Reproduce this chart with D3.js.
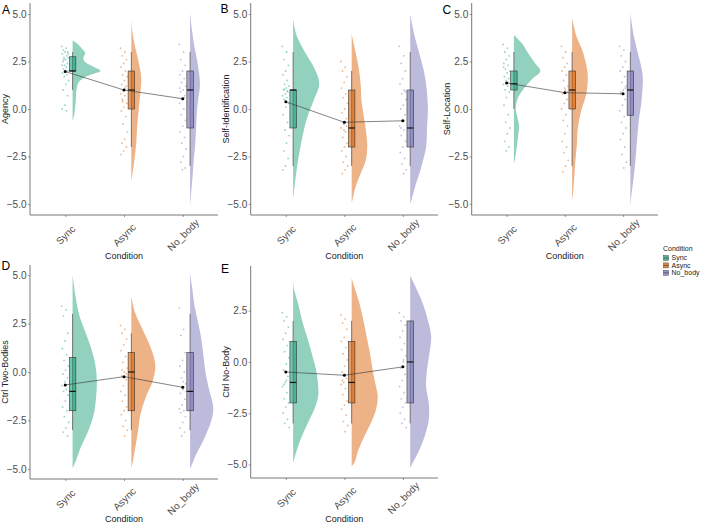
<!DOCTYPE html>
<html><head><meta charset="utf-8">
<script src="https://cdn.jsdelivr.net/npm/d3@7"></script>
<style>body{margin:0;background:#fff}svg{display:block;font-family:"Liberation Sans",Arial,Helvetica,sans-serif}</style>
</head><body><svg id="chart" width="708" height="524"></svg>
<script>
// ---------------- data ----------------
const conditions = ["Sync", "Async", "No_body"];
const colors = ["#1B9E77", "#D95F02", "#7570B3"];
const panelTags = ["A", "B", "C", "D", "E"];
const panelTitles = ["Agency", "Self-Identification", "Self-Location", "Ctrl Two-Bodies", "Ctrl No-Body"];
const xTitle = "Condition";
const yTicksMain = [-5, -2.5, 0, 2.5, 5];
const yTicksE = [-5, -2.5, 0, 2.5];

// box stats per condition: [min, q1, median, q3, max]
const boxA = [[1, 2, 2, 2.75, 3], [-2, 0, 1, 2, 3], [-3, -1, 1, 2, 3]];
const boxB = [[-3, -1, 1, 1, 3], [-3, -2, -1, 1, 2], [-3, -2, -1, 1, 3]];
const boxC = [[0, 1, 1.33, 2, 3], [-3, 0, 1, 2, 3], [-3, -0.33, 1, 2, 3]];
const boxD = [[-3, -2, -1, 0.75, 3], [-3, -2, 0, 1, 2], [-3, -2, -1, 1, 3]];
const boxE = [[-3, -2, -1, 1, 2], [-3, -2, -1, 1, 2], [-3, -2, 0, 2, 2]];

// condition means
const meanA = [1.97, 1.0, 0.54];
const meanB = [0.38, -0.7, -0.62];
const meanC = [1.37, 0.86, 0.8];
const meanD = [-0.67, -0.24, -0.79];
const meanE = [-0.49, -0.65, -0.24];

// half-violin density profiles: [value, density]
const violinA = [
  [[3.6,0],[3.45,0.15],[3.2,0.3],[2.95,0.42],[2.7,0.36],[2.5,0.4],[2.3,0.6],[2.1,0.85],[2.0,0.93],[1.85,0.7],[1.65,0.38],[1.4,0.2],[1.0,0.13],[0.5,0.11],[0,0.08],[-0.4,0.04],[-0.65,0]],
  [[4.75,0],[4.1,0.03],[3.4,0.11],[2.5,0.24],[1.6,0.33],[0.8,0.3],[-0.1,0.24],[-1.0,0.19],[-1.85,0.16],[-2.7,0.1],[-3.5,0.03],[-3.8,0]],
  [[5.05,0],[4.3,0.05],[3.4,0.13],[2.5,0.24],[1.3,0.33],[0.5,0.27],[-0.1,0.23],[-1.0,0.2],[-1.85,0.17],[-2.7,0.12],[-3.6,0.08],[-4.5,0.03],[-5.1,0]]
];
const violinB = [
  [[4.75,0],[3.9,0.11],[3.0,0.39],[2.1,0.72],[1.3,0.87],[0.4,0.67],[-0.45,0.47],[-1.3,0.33],[-2.2,0.22],[-3.05,0.13],[-3.9,0.06],[-4.75,0]],
  [[3.95,0],[3.0,0.13],[2.1,0.24],[1.3,0.3],[0.4,0.33],[-0.45,0.41],[-1.3,0.49],[-2.0,0.52],[-2.7,0.47],[-3.4,0.3],[-4.1,0.13],[-4.75,0.03],[-4.97,0]],
  [[5.0,0],[3.9,0.14],[3.0,0.29],[2.1,0.44],[1.3,0.53],[0.05,0.59],[-1.0,0.56],[-2.0,0.53],[-3.05,0.37],[-3.9,0.2],[-4.75,0.05],[-5.0,0]]
];
const violinC = [
  [[3.9,0],[3.47,0.26],[2.95,0.47],[2.42,0.7],[2.0,0.88],[1.55,0.59],[1.03,0.31],[0.6,0.14],[0.07,0.06],[-0.45,0.12],[-0.9,0.17],[-1.4,0.14],[-1.95,0.1],[-2.5,0.05],[-2.9,0]],
  [[4.8,0],[3.9,0.13],[3.0,0.36],[1.8,0.52],[0.77,0.47],[-0.1,0.3],[-1.0,0.19],[-1.85,0.16],[-2.7,0.11],[-3.6,0.07],[-4.45,0.03],[-4.8,0]],
  [[5.05,0],[3.9,0.11],[3.0,0.24],[1.8,0.41],[0.4,0.37],[-0.63,0.28],[-1.68,0.22],[-2.7,0.17],[-3.75,0.1],[-4.6,0.03],[-5.1,0]]
];
const violinD = [
  [[5.0,0],[3.8,0.11],[2.94,0.22],[2.08,0.42],[1.22,0.62],[0.36,0.76],[-0.5,0.81],[-1.36,0.78],[-2.22,0.7],[-3.08,0.51],[-3.93,0.26],[-4.62,0.1],[-4.95,0]],
  [[3.9,0],[3.04,0.13],[2.18,0.38],[1.32,0.63],[0.38,0.8],[-0.48,0.71],[-1.34,0.47],[-2.2,0.3],[-3.06,0.22],[-3.92,0.13],[-4.6,0.05],[-4.95,0]],
  [[5.1,0],[4.33,0.07],[3.47,0.14],[2.6,0.26],[1.75,0.37],[0.89,0.44],[0.03,0.51],[-0.82,0.62],[-1.68,0.76],[-2.03,0.77],[-2.54,0.7],[-3.4,0.48],[-4.26,0.2],[-5.03,0]]
];
const violinE = [
  [[3.98,0],[3.57,0.03],[2.76,0.18],[1.95,0.31],[1.14,0.48],[0.32,0.64],[-0.49,0.78],[-1.3,0.84],[-1.62,0.84],[-2.1,0.76],[-2.92,0.51],[-3.73,0.26],[-4.55,0.07],[-4.95,0]],
  [[4.1,0],[3.66,0.09],[2.85,0.26],[2.04,0.39],[1.23,0.5],[0.42,0.61],[-0.39,0.7],[-1.2,0.81],[-1.68,0.87],[-2.33,0.81],[-2.98,0.64],[-3.63,0.42],[-4.27,0.23],[-4.92,0.09],[-5.08,0]],
  [[4.22,0],[3.66,0.18],[2.85,0.42],[2.04,0.59],[1.23,0.7],[0.42,0.64],[-0.39,0.56],[-1.2,0.53],[-2.01,0.62],[-2.82,0.62],[-3.63,0.48],[-4.43,0.26],[-5.08,0.03],[-5.2,0]]
];

// individual (jittered) scores
const pointsA = [
  [3.3,3.2,3.1,3.0,3.0,2.9,2.8,2.7,2.7,2.6,2.5,2.4,2.3,2.3,2.2,2.1,2.0,2.0,1.9,1.8,1.7,1.5,1.3,1.0,0.7,0.2,0.0,-0.1,2.6,2.9],
  [3.2,3.0,2.8,2.6,2.4,2.2,2.0,1.8,1.7,1.5,1.3,1.2,1.0,0.8,0.7,0.5,0.3,0.1,-0.1,-0.4,-0.8,-1.2,-1.6,-1.8,-2.0,-2.2,-2.4,1.1,0.4],
  [3.4,3.0,2.6,2.3,2.0,1.8,1.6,1.4,1.2,1.0,0.9,0.7,0.5,0.3,0.0,-0.3,-0.6,-0.9,-1.2,-1.5,-1.8,-2.1,-2.5,-2.8,-3.1,-3.2,1.1,0.6]
];
const pointsB = [
  [3.3,3.0,2.6,2.3,2.0,1.8,1.5,1.3,1.2,1.1,1.0,0.9,0.8,0.7,0.6,0.5,0.3,0.1,-0.3,-0.7,-1.1,-1.4,-1.8,-2.2,-2.6,-3.0,-3.2,0.95,1.05],
  [2.5,2.2,2.0,1.7,1.4,1.1,0.8,0.6,0.3,0.0,-0.2,-0.5,-0.8,-1.0,-1.2,-1.5,-1.8,-2.0,-2.2,-2.5,-2.8,-3.0,-3.2,-3.4,-0.9,-1.1],
  [3.3,2.8,2.4,2.0,1.6,1.3,1.0,0.8,0.5,0.2,0.0,-0.3,-0.6,-0.9,-1.1,-1.4,-1.7,-2.0,-2.3,-2.6,-2.9,-3.2,-3.4,-1.0,0.9]
];
const pointsC = [
  [3.4,3.2,3.0,2.8,2.6,2.4,2.3,2.1,2.0,1.9,1.7,1.6,1.5,1.3,1.2,1.0,0.9,0.6,0.2,-0.3,-0.7,-1.0,-1.3,-1.7,-2.0,-2.2,2.2,1.4],
  [3.3,3.0,2.7,2.4,2.2,2.0,1.8,1.5,1.2,1.0,0.8,0.5,0.3,0.0,-0.3,-0.6,-0.9,-1.3,-1.7,-2.0,-2.3,-2.7,-3.0,-3.3,0.9,1.1],
  [3.3,3.1,2.8,2.5,2.2,2.0,1.7,1.4,1.2,1.0,0.8,0.5,0.2,-0.1,-0.4,-0.7,-1.0,-1.3,-1.6,-2.0,-2.4,-2.8,-3.1,0.9,1.1]
];
const pointsD = [
  [3.4,3.2,2.9,2.0,1.6,1.2,0.9,0.6,0.3,0.1,-0.1,-0.3,-0.5,-0.7,-0.9,-1.0,-1.2,-1.5,-1.8,-2.0,-2.3,-2.6,-2.9,-3.1,-3.3],
  [2.4,2.2,2.0,1.7,1.4,1.1,0.8,0.5,0.2,0.0,-0.2,-0.4,-0.7,-1.0,-1.2,-1.5,-1.8,-2.0,-2.2,-2.5,-2.8,-3.0,-3.3,0.1,-0.1],
  [3.3,2.2,1.9,1.0,0.6,0.3,0.0,-0.3,-0.6,-0.9,-1.1,-1.4,-1.7,-1.9,-2.0,-2.1,-2.3,-2.6,-2.9,-3.1,-3.3,-1.0,-0.5]
];
const pointsE = [
  [2.4,2.2,2.0,1.7,1.4,1.1,0.8,0.5,0.2,-0.1,-0.4,-0.7,-1.0,-1.2,-1.5,-1.8,-2.0,-2.2,-2.5,-2.8,-3.0,-3.2,-0.9,-1.1],
  [2.3,2.1,1.9,1.6,1.2,1.0,0.7,0.4,0.1,-0.2,-0.5,-0.8,-1.0,-1.1,-1.3,-1.6,-1.9,-2.1,-2.3,-2.6,-2.9,-3.1,-3.4,-0.9],
  [2.4,2.2,2.0,1.8,1.5,1.2,0.9,0.6,0.3,0.0,-0.3,-0.6,-0.9,-1.2,-1.5,-1.8,-2.0,-2.2,-2.5,-2.8,-3.0,-3.2,0.1]
];

// ---------------- layout ----------------
const panels = [
  {box: boxA, mean: meanA, violin: violinA, pts: pointsA, ticks: yTicksMain,
   x0: 30, x1: 218, y0: 3, y1: 215, dom: [-5.58, 5.58], tagX: 2, tagY: 13.5, titleX: 8, xtY: 258.5},
  {box: boxB, mean: meanB, violin: violinB, pts: pointsB, ticks: yTicksMain,
   x0: 250.7, x1: 438, y0: 3, y1: 215, dom: [-5.58, 5.58], tagX: 220.5, tagY: 12.8, titleX: 228.5, xtY: 258.5},
  {box: boxC, mean: meanC, violin: violinC, pts: pointsC, ticks: yTicksMain,
   x0: 471.7, x1: 658, y0: 3, y1: 215, dom: [-5.58, 5.58], tagX: 442.5, tagY: 13.5, titleX: 449.5, xtY: 258.5},
  {box: boxD, mean: meanD, violin: violinD, pts: pointsD, ticks: yTicksMain,
   x0: 30, x1: 218, y0: 265, y1: 479, dom: [-5.52, 5.52], tagX: 1.5, tagY: 270, titleX: 8, xtY: 521.5},
  {box: boxE, mean: meanE, violin: violinE, pts: pointsE, ticks: yTicksE,
   x0: 250.7, x1: 438, y0: 266, y1: 478, dom: [-5.66, 4.68], tagX: 221, tagY: 273.3, titleX: 228.5, xtY: 521.5}
];

const svg = d3.select("#chart");
const densScale = d3.scaleLinear().domain([0, 1]).range([0, 30]);
const axisCol = "#555";
const textCol = "#4d4d4d";

panels.forEach((p, pi) => {
  const x = d3.scalePoint().domain(conditions).range([p.x0, p.x1]).padding(0.6);
  const y = d3.scaleLinear().domain(p.dom).range([p.y1, p.y0]);
  const step = x.step();
  const nudge = 0.125 * step;
  const boxW = 0.11 * step;
  const g = svg.append("g");

  // half violins
  conditions.forEach((c, ci) => {
    const cx = x(c) + nudge;
    const area = d3.area()
      .y(d => y(d[0]))
      .x0(cx)
      .x1(d => cx + densScale(d[1]))
      .curve(d3.curveCatmullRom.alpha(0.5));
    g.append("path").attr("d", area(p.violin[ci]))
      .attr("fill", colors[ci]).attr("fill-opacity", 0.48).attr("stroke", "none");
  });

  // jittered raw points
  conditions.forEach((c, ci) => {
    g.selectAll(null).data(p.pts[ci]).enter().append("circle")
      .attr("cx", (d, i) => x(c) + (((i * 0.6180339) % 1) - 0.5) * 0.12 * step)
      .attr("cy", d => y(d))
      .attr("r", 0.9)
      .attr("fill", colors[ci]).attr("fill-opacity", 0.45);
  });

  // boxplots
  conditions.forEach((c, ci) => {
    const b = p.box[ci];
    const bx = x(c) + nudge;
    g.append("line").attr("x1", bx).attr("x2", bx).attr("y1", y(b[4])).attr("y2", y(b[0]))
      .attr("stroke", "#666").attr("stroke-width", 0.9);
    g.append("rect").attr("x", bx - boxW / 2).attr("width", boxW)
      .attr("y", y(b[3])).attr("height", y(b[1]) - y(b[3]))
      .attr("fill", colors[ci]).attr("fill-opacity", 0.6)
      .attr("stroke", "#333").attr("stroke-width", 0.6);
    g.append("line").attr("x1", bx - boxW / 2).attr("x2", bx + boxW / 2)
      .attr("y1", y(b[2])).attr("y2", y(b[2]))
      .attr("stroke", "#111").attr("stroke-width", 1.2);
  });

  // mean line + dots
  const line = d3.line().x((d, i) => x(conditions[i])).y(d => y(d));
  g.append("path").attr("d", line(p.mean)).attr("fill", "none")
    .attr("stroke", "#333").attr("stroke-width", 0.6);
  g.selectAll(null).data(p.mean).enter().append("circle")
    .attr("cx", (d, i) => x(conditions[i])).attr("cy", d => y(d))
    .attr("r", 1.5).attr("fill", "#000");

  // axes
  const yAxis = d3.axisLeft(y).tickValues(p.ticks).tickFormat(d3.format(".1f")).tickSize(2).tickPadding(1.5);
  const ya = g.append("g").attr("transform", `translate(${p.x0},0)`).call(yAxis);
  ya.select(".domain").attr("d", `M0,${p.y0}V${p.y1}`).attr("stroke", axisCol).attr("stroke-width", 0.8);
  ya.selectAll(".tick line").attr("stroke", axisCol).attr("stroke-width", 0.6);
  ya.selectAll(".tick text").attr("fill", textCol).style("font-size", "10px")
    .style("font-family", '"Liberation Sans",Arial,sans-serif');

  const xAxis = d3.axisBottom(x).tickSize(2).tickFormat(d => d);
  const xa = g.append("g").attr("transform", `translate(0,${p.y1})`).call(xAxis);
  xa.select(".domain").attr("d", `M${p.x0},0H${p.x1}`).attr("stroke", axisCol).attr("stroke-width", 0.8);
  xa.selectAll(".tick line").attr("stroke", axisCol).attr("stroke-width", 0.6);
  xa.selectAll(".tick text")
    .attr("y", 0).attr("dy", "0.35em")
    .attr("transform", "translate(0,20) rotate(-45)")
    .attr("text-anchor", "middle")
    .attr("fill", textCol).style("font-size", "10px")
    .style("font-family", '"Liberation Sans",Arial,sans-serif');

  // titles
  g.append("text").attr("x", (p.x0 + p.x1) / 2).attr("y", p.xtY)
    .attr("text-anchor", "middle").attr("font-size", 9).attr("fill", "#222").text(xTitle);
  g.append("text").attr("transform", `translate(${p.titleX},${(p.y0 + p.y1) / 2}) rotate(-90)`)
    .attr("text-anchor", "middle").attr("font-size", 9).attr("fill", "#222").text(panelTitles[pi]);
  g.append("text").attr("x", p.tagX).attr("y", p.tagY).attr("font-size", 12)
    .attr("fill", "#000").text(panelTags[pi]);
});

// legend
const lg = svg.append("g");
lg.append("text").attr("x", 663).attr("y", 251).attr("font-size", 7).attr("fill", "#222").text(xTitle);
conditions.forEach((c, ci) => {
  const ky = 255.5 + ci * 7.4;
  lg.append("rect").attr("x", 663.5).attr("y", ky).attr("width", 5).attr("height", 5)
    .attr("fill", colors[ci]).attr("fill-opacity", 0.75).attr("stroke", "#333").attr("stroke-width", 0.4);
  lg.append("line").attr("x1", 663.5).attr("x2", 668.5).attr("y1", ky + 2.5).attr("y2", ky + 2.5)
    .attr("stroke", "#222").attr("stroke-width", 0.5);
  lg.append("text").attr("x", 671.5).attr("y", ky + 4.8).attr("font-size", 7).attr("fill", "#222").text(c);
});
</script>
</body></html>
